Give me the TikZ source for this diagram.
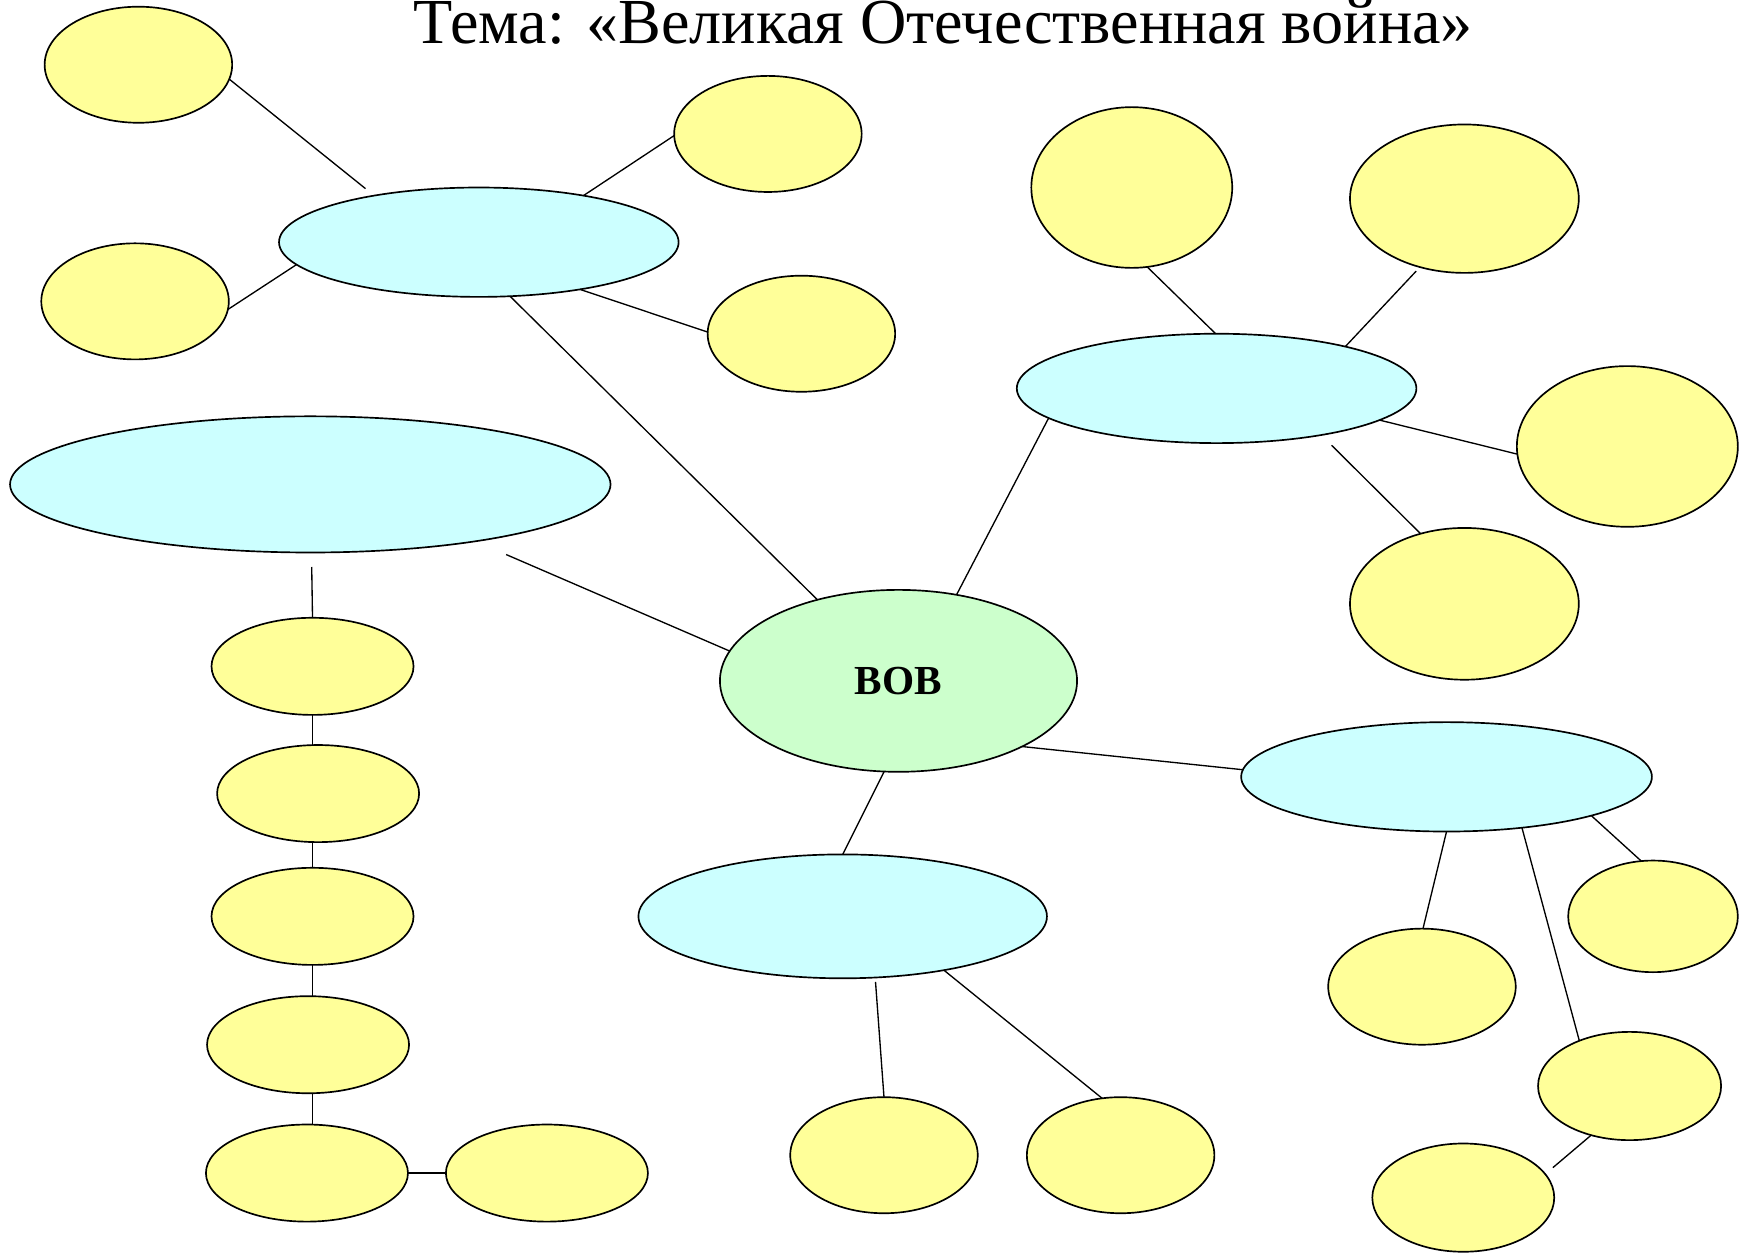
\documentclass[tikz,border=0pt]{standalone}
\usepackage{fontspec}
\setmainfont{Liberation Serif}
\usetikzlibrary{shapes.geometric}
\definecolor{yel}{HTML}{FFFF99}
\definecolor{cy}{HTML}{CCFFFF}
\definecolor{gr}{HTML}{CCFFCC}
\tikzset{
  ell/.style={ellipse, draw=black, line width=1.5pt, inner sep=0pt, outer sep=0pt},
  yb/.style args={#1/#2}{ell, fill=yel, minimum width=#1pt, minimum height=#2pt},
  cb/.style args={#1/#2}{ell, fill=cy, minimum width=#1pt, minimum height=#2pt},
  link/.style={draw=black, line width=1.2pt}
}
\begin{document}
\begin{tikzpicture}[x=1pt,y=-1pt]
\useasboundingbox (0,0) rectangle (1567,1123.5);
% title
\node[anchor=base, font=\fontsize{57.5}{60}\selectfont, inner sep=0pt] (title) at (845,39) {Тема: «Великая Отечественная война»};
% central
\node[ell, fill=gr, minimum width=320pt, minimum height=163pt, font=\bfseries\fontsize{37}{40}\selectfont] (bob) at (805,610) {\raisebox{-2pt}{ВОВ}};
% cyan
\node[cb=358/98] (c1) at (429,217) {};
\node[cb=538/122] (c2) at (278,434) {};
\node[cb=358/98] (c3) at (1090,348) {};
\node[cb=368/98] (c4) at (1296,696) {};
\node[cb=366/111] (c5) at (755,821) {};
% yellow
\node[yb=168/104] (y1) at (124,58) {};
\node[yb=168/104] (y2) at (688,120) {};
\node[yb=168/104] (y3) at (121,270) {};
\node[yb=168/104] (y4) at (718,299) {};
\node[yb=180/144] (y5) at (1014,168) {};
\node[yb=205/133] (y6) at (1312,178) {};
\node[yb=198/144] (y7) at (1458,400) {};
\node[yb=205/136] (y8) at (1312,541) {};
\node[yb=181/87] (y9) at (280,597) {};
\node[yb=181/87] (y10) at (285,711) {};
\node[yb=181/87] (y11) at (280,821) {};
\node[yb=181/87] (y12) at (276,936) {};
\node[yb=181/87] (y13) at (275,1051) {};
\node[yb=181/87] (y14) at (490,1051) {};
\node[yb=168/104] (y15) at (792,1035) {};
\node[yb=168/104] (y16) at (1004,1035) {};
\node[yb=152/100] (y17) at (1481,821) {};
\node[yb=168/104] (y18) at (1274,884) {};
\node[yb=164/97] (y19) at (1460,973) {};
\node[yb=163/97] (y20) at (1311,1073) {};
% connectors
\draw[link, shorten >=10pt] (y1.-9) -- (c1.156);
\draw[link] (c1.24) -- (y2.181);
\draw[link] (y3.-5) -- (c1.187);
\draw[link] (c1.-25) -- (y4.179);
\draw[link] (c1.-60) -- (bob.135);
\draw[link, shorten <=30pt] (c2.-19) -- (bob.170);
\draw[link, shorten <=13pt] (c2.-89.5) -- (y9.90);
\draw[link] (y9.south) -- (y9.south |- y10.north);
\draw[link] (y9.south |- y10.south) -- (y9.south |- y11.north);
\draw[link] (y11.south) -- (y11.south |- y12.north);
\draw[link] (y11.south |- y12.south) -- (y11.south |- y13.north);
\draw[link] (y13.east) -- (y14.west);
\draw[link] (bob.56) -- (c3.190);
\draw[link] (y5.-79) -- (c3.91);
\draw[link, shorten <=5pt] (y6.-123) -- (c3.18);
\draw[link] (c3.-11) -- (y7.184);
\draw[link, shorten <=13pt] (c3.-24) -- (y8.122);
\draw[link] (bob.-28) -- (c4.178);
\draw[link] (c4.-15) -- (y17.102);
\draw[link] (c4.-90) -- (y18.89);
\draw[link] (c4.-34) -- (y19.138);
\draw[link, shorten >=9pt] (y19.-128) -- (y20.16);
\draw[link] (bob.-99) -- (c5.90);
\draw[link, shorten <=4pt] (c5.-62) -- (y15.90);
\draw[link] (c5.-28) -- (y16.108);
\end{tikzpicture}
\end{document}
